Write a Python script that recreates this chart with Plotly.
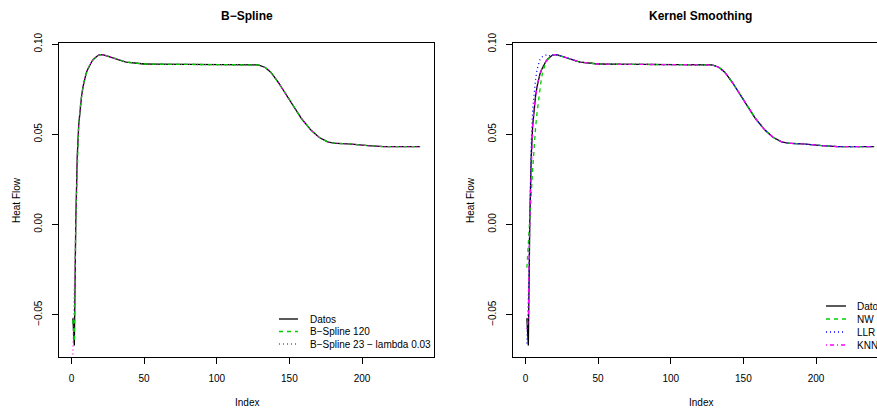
import plotly.graph_objects as go

W, H = 877, 410

# ---------------- data ----------------
index = list(range(1, 241))

datos = [
    -0.052, -0.067, 0.002, 0.038, 0.055, 0.065, 0.0715, 0.0765, 0.0805, 0.0835,
    0.0857, 0.0876, 0.0891, 0.0904, 0.0915, 0.0924, 0.0931, 0.0936, 0.0940, 0.0942,
    0.0942, 0.0941, 0.0939, 0.0937, 0.0934, 0.0931, 0.0928, 0.0925, 0.0922, 0.0919,
    0.0916, 0.0913, 0.0911, 0.0908, 0.0906, 0.0904, 0.0902, 0.0900, 0.0899, 0.0897,
    0.0896, 0.0895, 0.0894, 0.0893, 0.0892, 0.0892, 0.0891, 0.0891, 0.0890, 0.0890,
    0.0890, 0.0889, 0.0889, 0.0889, 0.0889, 0.0889, 0.0889, 0.0889, 0.0889, 0.0889,
    0.0889, 0.0889, 0.0889, 0.0889, 0.0889, 0.0889, 0.0889, 0.0889, 0.0889, 0.0889,
    0.0889, 0.0888, 0.0888, 0.0888, 0.0889, 0.0889, 0.0889, 0.0888, 0.0888, 0.0888,
    0.0888, 0.0888, 0.0888, 0.0888, 0.0888, 0.0888, 0.0888, 0.0888, 0.0888, 0.0888,
    0.0888, 0.0888, 0.0888, 0.0888, 0.0888, 0.0888, 0.0888, 0.0888, 0.0888, 0.0888,
    0.0888, 0.0888, 0.0889, 0.0889, 0.0889, 0.0889, 0.0889, 0.0889, 0.0889, 0.0889,
    0.0889, 0.0889, 0.0889, 0.0889, 0.0889, 0.0889, 0.0889, 0.0889, 0.0889, 0.0889,
    0.0889, 0.0889, 0.0888, 0.0888, 0.0887, 0.0887, 0.0886, 0.0885, 0.0884, 0.0882,
    0.0879, 0.0876, 0.0872, 0.0867, 0.0861, 0.0854, 0.0846, 0.0837, 0.0827, 0.0816,
    0.0805, 0.0793, 0.0781, 0.0768, 0.0755, 0.0742, 0.0729, 0.0716, 0.0703, 0.0690,
    0.0677, 0.0664, 0.0651, 0.0639, 0.0627, 0.0615, 0.0603, 0.0592, 0.0581, 0.0570,
    0.0560, 0.0550, 0.0541, 0.0532, 0.0523, 0.0515, 0.0507, 0.0500, 0.0493, 0.0487,
    0.0481, 0.0476, 0.0471, 0.0467, 0.0463, 0.0460, 0.0457, 0.0455, 0.0453, 0.0452,
    0.0451, 0.0450, 0.0450, 0.0449, 0.0449, 0.0448, 0.0448, 0.0448, 0.0447, 0.0447,
    0.0447, 0.0446, 0.0446, 0.0446, 0.0446, 0.0445, 0.0445, 0.0444, 0.0443, 0.0442,
    0.0441, 0.0440, 0.0439, 0.0438, 0.0437, 0.0436, 0.0436, 0.0435, 0.0435, 0.0434,
    0.0434, 0.0433, 0.0433, 0.0433, 0.0432, 0.0432, 0.0432, 0.0432, 0.0431, 0.0431,
    0.0431, 0.0431, 0.0431, 0.0431, 0.0431, 0.0431, 0.0431, 0.0431, 0.0431, 0.0431,
    0.0431, 0.0431, 0.0431, 0.0431, 0.0431, 0.0431, 0.0432, 0.0432, 0.0432, 0.0432,
]

# smoothed fits: only the first points differ visibly from the data
bs120_head = [-0.053, -0.065, 0.003, 0.038, 0.055]
bs23_head = [-0.072, -0.034, 0.006, 0.037, 0.055, 0.065]
nw_head = [-0.024, -0.012, 0.003, 0.017, 0.031, 0.044, 0.054, 0.062, 0.069,
           0.0755, 0.0810, 0.0850, 0.0878, 0.0898, 0.0912, 0.0922, 0.0930]
llr_head = [-0.066, -0.042, 0.004, 0.046, 0.064, 0.0735, 0.0805, 0.0860,
            0.0895, 0.0915, 0.0927, 0.0933, 0.0937, 0.0939, 0.0940, 0.0941]
knn_head = [-0.058, -0.052, 0.004, 0.038, 0.055]

bs120 = bs120_head + datos[len(bs120_head):]
bs23 = bs23_head + datos[len(bs23_head):]
nw = nw_head + datos[len(nw_head):]
llr = llr_head + datos[len(llr_head):]
knn = knn_head + datos[len(knn_head):]

x_ticks = [0, 50, 100, 150, 200]
y_ticks = [-0.05, 0.0, 0.05, 0.10]
y_ticktext = ["\u22120.05", "0.00", "0.05", "0.10"]

titles = ["B\u2212Spline", "Kernel Smoothing"]
legend_left = ["Datos", "B\u2212Spline 120", "B\u2212Spline 23 \u2212 lambda 0.03"]
legend_right = ["Datos", "NW", "LLR", "KNN"]

# ---------------- styles ----------------
BLACK = "#000000"
GREEN3 = "#00CD00"
BLUE = "#0000FF"
MAGENTA = "#FF00FF"
DASHED = "4px,4px"
DOTTED = "1px,3px"
DOTDASH = "1px,3px,4px,3px"
FONT = "Liberation Sans, Arial, Helvetica, sans-serif"
LW = 1.3

# R-like axis ranges (4% extension)
xr0 = index[0] - 0.04 * (index[-1] - index[0])
xr1 = index[-1] + 0.04 * (index[-1] - index[0])
ymin, ymax = min(datos), max(datos)
yr0 = ymin - 0.04 * (ymax - ymin)
yr1 = ymax + 0.04 * (ymax - ymin)

# pixel layout
L_BOX = (59, 434)
R_BOX_LEFT = 513
BOX_W = L_BOX[1] - L_BOX[0]
TOP, BOTTOM = 43, 357


def px(v):
    return v / W


def py(v):
    return 1 - v / H


# right panel is clipped at the window edge
xr1_right = xr0 + (W - R_BOX_LEFT) / BOX_W * (xr1 - xr0)

fig = go.Figure()


def add_line(y, color, dash, xa, ya):
    fig.add_trace(go.Scatter(
        x=index, y=y, mode="lines", xaxis=xa, yaxis=ya,
        line=dict(color=color, width=LW, dash=dash),
        showlegend=False, hoverinfo="skip"))


add_line(datos, BLACK, "solid", "x", "y")
add_line(bs120, GREEN3, DASHED, "x", "y")
add_line(bs23, MAGENTA, DOTTED, "x", "y")

add_line(datos, BLACK, "solid", "x2", "y2")
add_line(nw, GREEN3, DASHED, "x2", "y2")
add_line(llr, BLUE, DOTTED, "x2", "y2")
add_line(knn, MAGENTA, DOTDASH, "x2", "y2")

axis_common = dict(
    showgrid=False, zeroline=False, showline=True, linecolor=BLACK, linewidth=1,
    ticks="outside", ticklen=6, tickwidth=1, tickcolor=BLACK, automargin=False,
    tickfont=dict(family=FONT, size=10, color=BLACK),
)

fig.update_layout(
    width=W, height=H,
    margin=dict(l=0, r=0, t=0, b=0, autoexpand=False),
    paper_bgcolor="white", plot_bgcolor="white",
    font=dict(family=FONT, size=10, color=BLACK),
    xaxis=dict(domain=[px(L_BOX[0]), px(L_BOX[1])], range=[xr0, xr1],
               tickvals=x_ticks, mirror=True, anchor="y",
               ticklabelstandoff=6, **axis_common),
    yaxis=dict(domain=[py(BOTTOM), py(TOP)], range=[yr0, yr1],
               tickvals=y_ticks, ticktext=y_ticktext, tickangle=-90,
               mirror=True, anchor="x", ticklabelstandoff=6, **axis_common),
    xaxis2=dict(domain=[px(R_BOX_LEFT), 1.0], range=[xr0, xr1_right],
                tickvals=x_ticks, mirror=True, anchor="y2",
                ticklabelstandoff=6, **axis_common),
    yaxis2=dict(domain=[py(BOTTOM), py(TOP)], range=[yr0, yr1],
                tickvals=y_ticks, ticktext=y_ticktext, tickangle=-90,
                mirror=False, anchor="x2", ticklabelstandoff=6, **axis_common),
)

annotations = []
shapes = []

centers = [(L_BOX[0] + L_BOX[1]) / 2, R_BOX_LEFT + BOX_W / 2]
for c, t in zip(centers, titles):
    annotations.append(dict(text="<b>" + t + "</b>", x=px(c), y=py(16),
                            xref="paper", yref="paper", showarrow=False,
                            xanchor="center", yanchor="middle",
                            font=dict(family=FONT, size=12, color=BLACK)))
    annotations.append(dict(text="Index", x=px(c), y=py(402),
                            xref="paper", yref="paper", showarrow=False,
                            xanchor="center", yanchor="middle",
                            font=dict(family=FONT, size=10, color=BLACK)))

for xc in [16, 470]:
    annotations.append(dict(text="Heat Flow", x=px(xc), y=py((TOP + BOTTOM) / 2),
                            xref="paper", yref="paper", showarrow=False,
                            textangle=-90, xanchor="center", yanchor="middle",
                            font=dict(family=FONT, size=10, color=BLACK)))


def legend(items, styles, x0, x1, xt, rows):
    for label, (col, dash), yy in zip(items, styles, rows):
        shapes.append(dict(type="line", xref="paper", yref="paper",
                           x0=px(x0), x1=px(x1), y0=py(yy), y1=py(yy),
                           line=dict(color=col, width=LW, dash=dash)))
        annotations.append(dict(text=label, x=px(xt), y=py(yy),
                                xref="paper", yref="paper", showarrow=False,
                                xanchor="left", yanchor="middle",
                                font=dict(family=FONT, size=10, color=BLACK)))


legend(legend_left,
       [(BLACK, "solid"), (GREEN3, DASHED), (MAGENTA, DOTTED)],
       279, 298, 308, [319, 331.5, 344])
legend(legend_right,
       [(BLACK, "solid"), (GREEN3, DASHED), (BLUE, DOTTED), (MAGENTA, DOTDASH)],
       826, 846, 855, [306, 319, 332, 345])

fig.update_layout(annotations=annotations, shapes=shapes)

fig.write_html("out.html")
